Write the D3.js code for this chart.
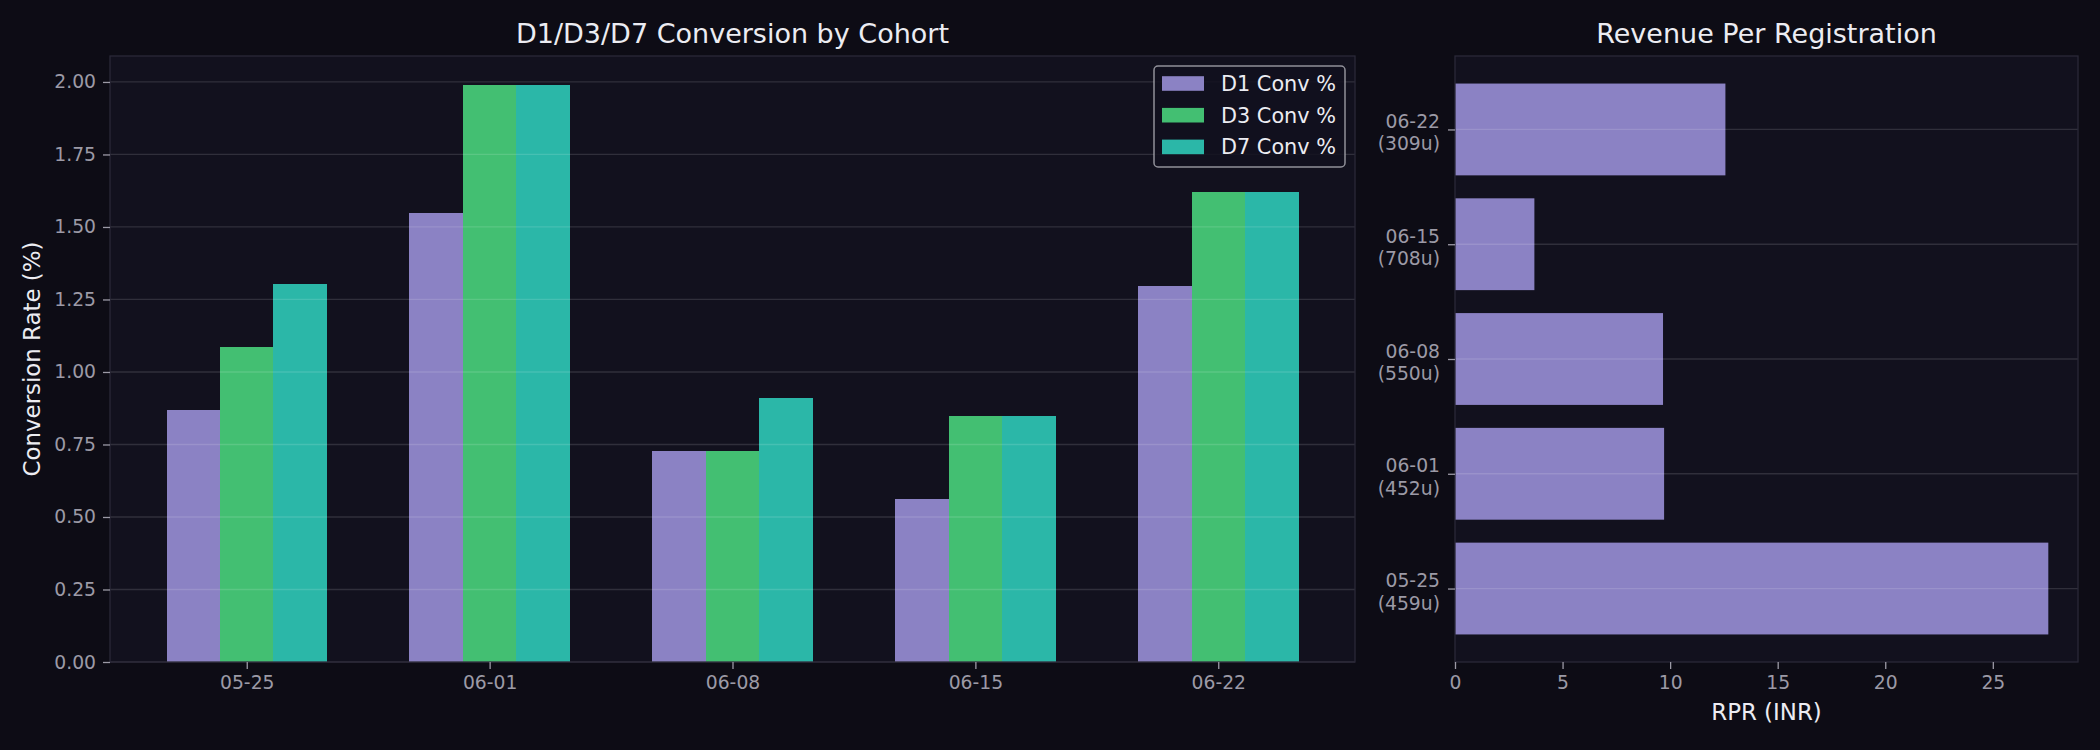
<!DOCTYPE html>
<html>
<head>
<meta charset="utf-8">
<script src="https://cdn.jsdelivr.net/npm/d3@7"></script>
<style>
  html, body { margin: 0; padding: 0; background: #0d0c15; }
  svg { display: block; font-family: "DejaVu Sans", sans-serif; }
</style>
</head>
<body>
<svg id="chart" width="2100" height="750"></svg>
<script>
// ---- data ----
const cohorts = ["05-25", "06-01", "06-08", "06-15", "06-22"];
const seriesNames = ["D1 Conv %", "D3 Conv %", "D7 Conv %"];
const d1Conv = [0.868, 1.548, 0.726, 0.563, 1.298];
const d3Conv = [1.085, 1.99, 0.726, 0.847, 1.621];
const d7Conv = [1.305, 1.99, 0.909, 0.847, 1.621];
const convTicks = [0, 0.25, 0.5, 0.75, 1.0, 1.25, 1.5, 1.75, 2.0];
const users = [459, 452, 550, 708, 309];
const rpr = [27.58, 9.72, 9.67, 3.69, 12.57];
const rprTicks = [0, 5, 10, 15, 20, 25];

// ---- style ----
const colors = ["#8b82c4", "#43bf72", "#2bb7a8"];
const figBg = "#0d0c15", axBg = "#12111e", spineCol = "#2a2838";
const tickCol = "#9c9aa6", titleCol = "#ececf2";

const svg = d3.select("#chart");
svg.append("rect").attr("width", 2100).attr("height", 750).attr("fill", figBg);

// ================= LEFT PANEL =================
const L = {x0: 110, x1: 1355, y0: 56, y1: 662};
const xL = d3.scaleLinear().domain([-0.563, 4.563]).range([L.x0, L.x1]);
const yL = d3.scaleLinear().domain([0, 2.0895]).range([L.y1, L.y0]);

const gL = svg.append("g");
gL.append("rect").attr("x", L.x0).attr("y", L.y0).attr("width", L.x1 - L.x0).attr("height", L.y1 - L.y0).attr("fill", axBg);

const series = [d1Conv, d3Conv, d7Conv];
const bw = 0.22;
series.forEach((vals, k) => {
  gL.selectAll(null).data(vals).enter().append("rect")
    .attr("x", (d, i) => xL(i + (k - 1) * bw - bw / 2))
    .attr("width", (d, i) => xL(i + (k - 1) * bw + bw / 2) - xL(i + (k - 1) * bw - bw / 2) + 0.6)
    .attr("y", d => yL(d))
    .attr("height", d => yL(0) - yL(d))
    .attr("fill", colors[k])
    .attr("shape-rendering", "crispEdges");
});

// grid (above bars)
gL.selectAll(null).data(convTicks).enter().append("line")
  .attr("x1", L.x0).attr("x2", L.x1)
  .attr("y1", d => yL(d)).attr("y2", d => yL(d))
  .attr("stroke", "#ffffff").attr("stroke-opacity", 0.13).attr("stroke-width", 1.3);

// spines
gL.append("rect").attr("x", L.x0).attr("y", L.y0).attr("width", L.x1 - L.x0).attr("height", L.y1 - L.y0)
  .attr("fill", "none").attr("stroke", spineCol).attr("stroke-width", 1.3);

// axes
const axL = gL.append("g").attr("transform", `translate(${L.x0},0)`)
  .call(d3.axisLeft(yL).tickValues(convTicks).tickFormat(d3.format(".2f")).tickSize(7).tickPadding(7));
const axB = gL.append("g").attr("transform", `translate(0,${L.y1})`)
  .call(d3.axisBottom(xL).tickValues(d3.range(cohorts.length)).tickFormat(i => cohorts[i]).tickSize(7).tickPadding(7));
[axL, axB].forEach(a => {
  a.select(".domain").remove();
  a.selectAll(".tick line").attr("stroke", tickCol).attr("stroke-width", 1.3);
  a.selectAll(".tick text").attr("fill", tickCol).style("font-size", "18.75px").style("font-family", "DejaVu Sans");
});

gL.append("text").attr("x", (L.x0 + L.x1) / 2).attr("y", 43).attr("text-anchor", "middle")
  .attr("fill", titleCol).style("font-size", "27px").text("D1/D3/D7 Conversion by Cohort");
gL.append("text").attr("transform", `translate(40,${(L.y0 + L.y1) / 2}) rotate(-90)`).attr("text-anchor", "middle")
  .attr("fill", titleCol).style("font-size", "22.9px").text("Conversion Rate (%)");

// legend
const lg = gL.append("g");
lg.append("rect").attr("x", 1154).attr("y", 66).attr("width", 191).attr("height", 101).attr("rx", 4)
  .attr("fill", axBg).attr("fill-opacity", 0.85).attr("stroke", "#b0b0b8").attr("stroke-opacity", 0.8).attr("stroke-width", 1.5);
seriesNames.forEach((name, k) => {
  const cy = 83.5 + k * 31.7;
  lg.append("rect").attr("x", 1162).attr("y", cy - 7.3).attr("width", 42).attr("height", 14.6).attr("fill", colors[k]);
  lg.append("text").attr("x", 1221).attr("y", cy + 7.3).attr("fill", titleCol).style("font-size", "20.8px").text(name);
});

// ================= RIGHT PANEL =================
const R = {x0: 1455, x1: 2078, y0: 56, y1: 662};
const xR = d3.scaleLinear().domain([0, 28.96]).range([R.x0, R.x1]);
const yR = d3.scaleLinear().domain([-0.64, 4.64]).range([R.y1, R.y0]);
const gR = svg.append("g");
gR.append("rect").attr("x", R.x0).attr("y", R.y0).attr("width", R.x1 - R.x0).attr("height", R.y1 - R.y0).attr("fill", axBg);

gR.selectAll(null).data(rpr).enter().append("rect")
  .attr("x", xR(0)).attr("width", d => xR(d) - xR(0))
  .attr("y", (d, i) => yR(i + 0.4)).attr("height", (d, i) => yR(i - 0.4) - yR(i + 0.4))
  .attr("fill", colors[0]);

gR.selectAll(null).data(d3.range(cohorts.length)).enter().append("line")
  .attr("x1", R.x0).attr("x2", R.x1)
  .attr("y1", d => yR(d)).attr("y2", d => yR(d))
  .attr("stroke", "#ffffff").attr("stroke-opacity", 0.13).attr("stroke-width", 1.3);

gR.append("rect").attr("x", R.x0).attr("y", R.y0).attr("width", R.x1 - R.x0).attr("height", R.y1 - R.y0)
  .attr("fill", "none").attr("stroke", spineCol).attr("stroke-width", 1.3);

const axRB = gR.append("g").attr("transform", `translate(0,${R.y1})`)
  .call(d3.axisBottom(xR).tickValues(rprTicks).tickSize(7).tickPadding(7));
const axRL = gR.append("g").attr("transform", `translate(${R.x0},0)`)
  .call(d3.axisLeft(yR).tickValues(d3.range(cohorts.length)).tickFormat(() => "").tickSize(7).tickPadding(7));
[axRB, axRL].forEach(a => {
  a.select(".domain").remove();
  a.selectAll(".tick line").attr("stroke", tickCol).attr("stroke-width", 1.3);
  a.selectAll(".tick text").attr("fill", tickCol).style("font-size", "18.75px").style("font-family", "DejaVu Sans");
});
// two-line category labels
axRL.selectAll(".tick").each(function (i) {
  const t = d3.select(this).select("text").attr("x", -15).attr("dy", null).attr("y", 0);
  t.append("tspan").attr("x", -15).attr("y", -2).text(cohorts[i]);
  t.append("tspan").attr("x", -15).attr("y", 20.5).text(`(${users[i]}u)`);
});

gR.append("text").attr("x", (R.x0 + R.x1) / 2).attr("y", 43).attr("text-anchor", "middle")
  .attr("fill", titleCol).style("font-size", "27px").text("Revenue Per Registration");
gR.append("text").attr("x", (R.x0 + R.x1) / 2).attr("y", 720).attr("text-anchor", "middle")
  .attr("fill", titleCol).style("font-size", "22.9px").text("RPR (INR)");
</script>
</body>
</html>
